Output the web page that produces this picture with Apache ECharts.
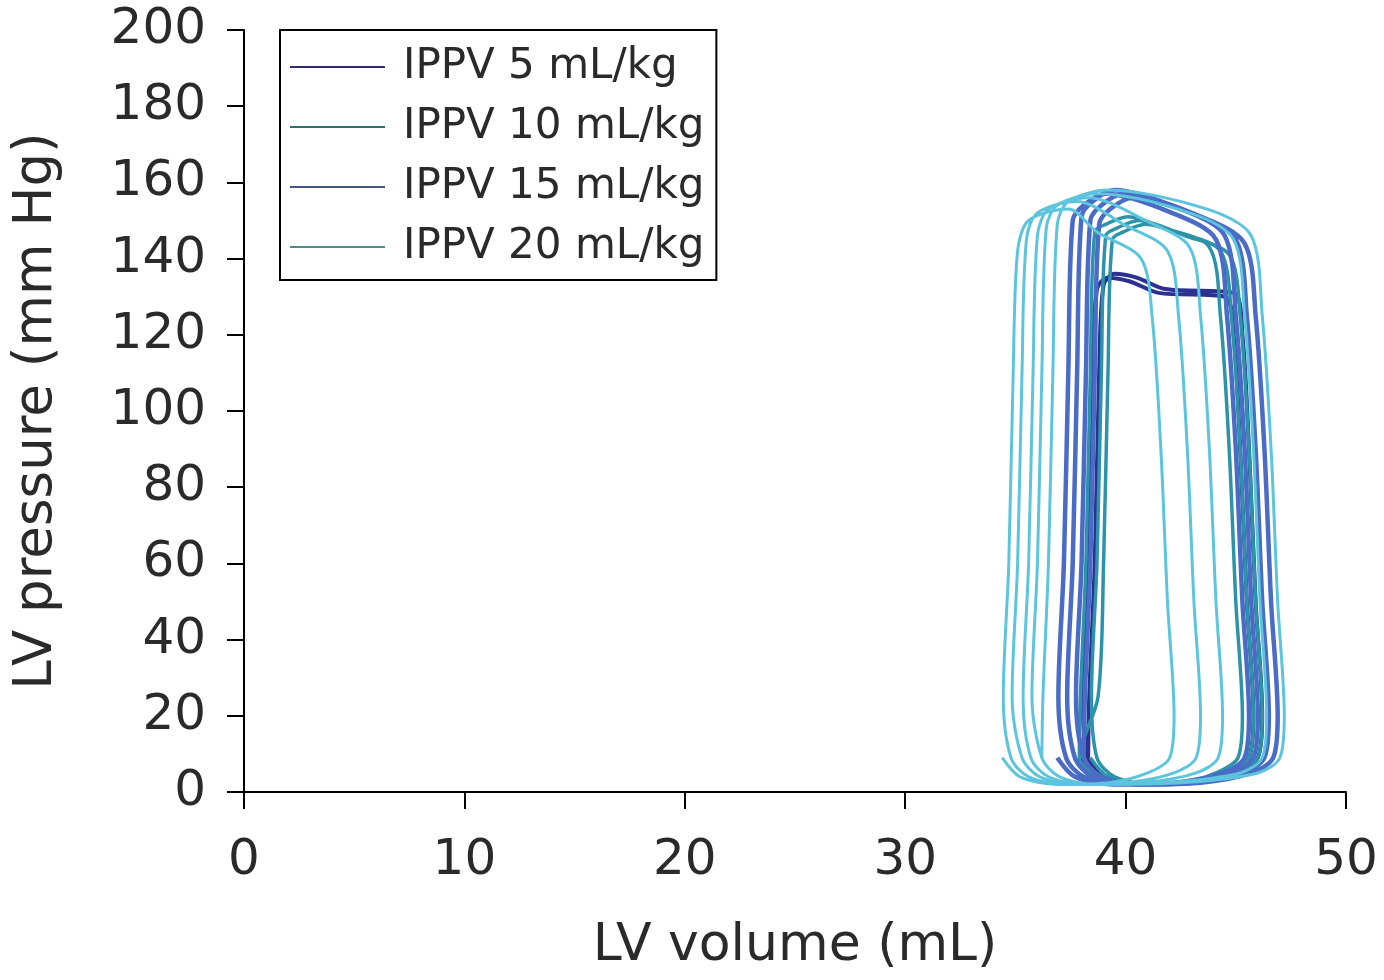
<!DOCTYPE html>
<html>
<head>
<meta charset="utf-8">
<script src="https://cdn.jsdelivr.net/npm/echarts@6/dist/echarts.min.js"></script>
<style>
html,body{margin:0;padding:0;background:#fff;}
#chart{width:1384px;height:980px;}
</style>
</head>
<body>
<div id="chart"></div>
<script>
// Series names
const seriesNames = ['IPPV 5 mL/kg', 'IPPV 10 mL/kg', 'IPPV 15 mL/kg', 'IPPV 20 mL/kg'];
// Axis ticks
const xTicks = [0, 10, 20, 30, 40, 50];
const yTicks = [0, 20, 40, 60, 80, 100, 120, 140, 160, 180, 200];

// Pressure-volume loops, [LV volume (mL), LV pressure (mm Hg)], loops concatenated
const ippv5 = [
  [38.0,9],[38.8,4],[40.5,2],[43.0,2.5],[44.8,5],[45.6,9],[45.8,20],[45.5,50],[45.2,90],[44.9,120],[44.5,130],[41.5,131],[40.2,134],[39.2,135],[38.7,132],[38.5,110],[38.3,60],[38.05,25],
  [38.3,9],[39.1,4],[40.8,2],[43.3,2.5],[45.1,5],[46.0,9],[46.2,20],[45.9,50],[45.6,90],[45.3,120],[44.9,131],[41.8,132],[40.5,135],[39.5,136],[39.0,133],[38.8,110],[38.6,60],[38.35,25],
  [38.3,9]
];
const ippv10 = [
  [38.4,9],[39.2,4],[40.9,2],[43.1,2.5],[44.6,5],[45.6,9],[45.8,20],[45.5,50],[45.2,90],[44.8,125],[44.3,142],[42.3,147],[40.6,150],[39.6,148],[39.1,146],[38.9,110],[38.7,60],[38.45,25],
  [38.7,9],[39.5,4],[41.2,2],[43.5,2.5],[45.0,5],[46.0,9],[46.2,20],[45.9,50],[45.6,90],[45.2,125],[44.7,141],[42.7,146],[40.9,149],[39.9,147],[39.4,145],[39.2,110],[39.0,60],[38.75,25],
  [37.9,9],[38.7,4],[40.4,2],[42.6,2.5],[44.1,5],[45.1,9],[45.3,20],[45.0,50],[44.7,90],[44.3,125],[43.8,143],[41.8,148],[40.1,151],[39.1,149],[38.6,147],[38.4,110],[38.2,60],[37.95,25],
  [37.9,9]
];
const ippv15 = [
  [36.9,9],[37.7,4],[39.4,2],[42.3,2.5],[44.4,5],[45.4,9],[45.6,20],[45.3,50],[45.0,90],[44.6,125],[44.1,145],[42.1,152],[39.1,157],[38.1,154],[37.6,150],[37.4,110],[37.2,60],[36.95,25],
  [37.3,9],[38.1,4],[39.8,2],[42.7,2.5],[44.8,5],[45.8,9],[46.0,20],[45.7,50],[45.4,90],[45.0,125],[44.5,146],[42.5,153],[39.5,158],[38.5,155],[38.0,151],[37.8,110],[37.6,60],[37.35,25],
  [37.7,9],[38.5,4],[40.2,2],[43.1,2.5],[45.3,5],[46.3,9],[46.5,20],[46.2,50],[45.9,90],[45.5,125],[45.0,145],[43.0,152],[39.9,157],[38.9,154],[38.4,150],[38.2,110],[38.0,60],[37.75,25],
  [38.1,9],[38.9,4],[40.6,2],[43.5,2.5],[45.7,5],[46.7,9],[46.9,20],[46.6,50],[46.3,90],[45.9,125],[45.4,144],[43.4,151],[40.3,156],[39.3,153],[38.8,149],[38.6,110],[38.4,60],[38.15,25],
  [38.1,9]
];
const ippv20 = [
  [34.4,9],[35.2,4],[36.9,2],[39.3,2.5],[41.0,5],[42.0,9],[42.2,20],[41.9,50],[41.6,90],[41.2,125],[40.7,140],[38.7,147],[37.4,153],[35.6,150],[35.1,142],[34.9,110],[34.7,60],[34.45,25],
  [34.8,9],[35.6,4],[37.3,2],[40.1,2.5],[42.2,5],[43.2,9],[43.4,20],[43.1,50],[42.8,90],[42.4,125],[41.9,142],[39.9,149],[37.8,155],[36.0,152],[35.5,145],[35.3,110],[35.1,60],[34.85,25],
  [35.3,9],[36.1,4],[37.8,2],[40.9,2.5],[43.2,5],[44.2,9],[44.4,20],[44.1,50],[43.8,90],[43.4,125],[42.9,143],[40.9,150],[38.3,156],[36.5,153],[36.0,146],[35.8,110],[35.6,60],[35.35,25],
  [35.7,9],[36.5,4],[38.2,2],[42.0,2.5],[45.2,5],[46.2,9],[46.4,20],[46.1,50],[45.8,90],[45.4,125],[44.9,145],[42.9,152],[38.7,157],[36.9,154],[36.4,148],[36.2,110],[36.0,60],[35.75,25],
  [36.2,9],[37.0,4],[38.7,2],[42.7,2.5],[46.0,5],[47.0,9],[47.2,20],[46.9,50],[46.6,90],[46.2,125],[45.7,146],[43.7,153],[39.2,158],[37.4,155],[36.9,149],[36.7,110],[36.5,60],[36.25,25],
  [36.2,9]
];

const lineColors = ['#2a3190', '#2c93a8', '#4a6bc6', '#5cc4dc'];
const legendColors = ['#2b2f6a', '#2b6f70', '#45527e', '#4d8a90'];
const lineWidths = [4, 3.5, 4.5, 3];
const allData = [ippv5, ippv10, ippv15, ippv20];

const font = 'DejaVu Sans, Liberation Sans, Arial, sans-serif';
const chart = echarts.init(document.getElementById('chart'), null, {renderer: 'canvas'});

const option = {
  backgroundColor: '#ffffff',
  animation: false,
  grid: {left: 244, right: 38, top: 30, bottom: 188, containLabel: false},
  legend: {
    show: true,
    orient: 'vertical',
    left: 280,
    top: 30,
    padding: [16, 12, 12, 10],
    borderColor: '#000',
    borderWidth: 2,
    itemWidth: 95,
    itemHeight: 2,
    itemGap: 18,
    icon: 'rect',
    data: seriesNames.map((n, i) => ({name: n, icon: 'rect', itemStyle: {color: legendColors[i]}})),
    textStyle: {fontFamily: font, fontSize: 42, color: '#2a2a2a', padding: [0, 0, 0, 13]}
  },
  xAxis: {
    type: 'value', min: 0, max: 50, interval: 10,
    name: 'LV volume (mL)', nameLocation: 'middle', nameGap: 128,
    nameTextStyle: {fontFamily: font, fontSize: 52, color: '#2a2a2a'},
    axisLine: {show: true, lineStyle: {color: '#000', width: 2}},
    axisTick: {show: true, length: 17, lineStyle: {color: '#000', width: 2}},
    axisLabel: {margin: 44, fontFamily: font, fontSize: 50, color: '#2a2a2a', formatter: v => xTicks.includes(v) ? String(v) : ''},
    splitLine: {show: false}
  },
  yAxis: {
    type: 'value', min: 0, max: 200, interval: 20,
    name: 'LV pressure (mm Hg)', nameLocation: 'middle', nameGap: 180,
    nameTextStyle: {fontFamily: font, fontSize: 53, color: '#2a2a2a'},
    axisLine: {show: true, lineStyle: {color: '#000', width: 2}},
    axisTick: {show: true, length: 17, lineStyle: {color: '#000', width: 2}},
    axisLabel: {margin: 38, fontFamily: font, fontSize: 50, color: '#2a2a2a', formatter: v => yTicks.includes(v) ? String(v) : ''},
    splitLine: {show: false}
  },
  series: seriesNames.map((n, i) => ({
    name: n,
    type: 'line',
    data: allData[i],
    symbol: 'none',
    smooth: 0.3,
    color: lineColors[i],
    lineStyle: {color: lineColors[i], width: lineWidths[i]},
    z: 2 + i
  }))
};
chart.setOption(option);
</script>
</body>
</html>
